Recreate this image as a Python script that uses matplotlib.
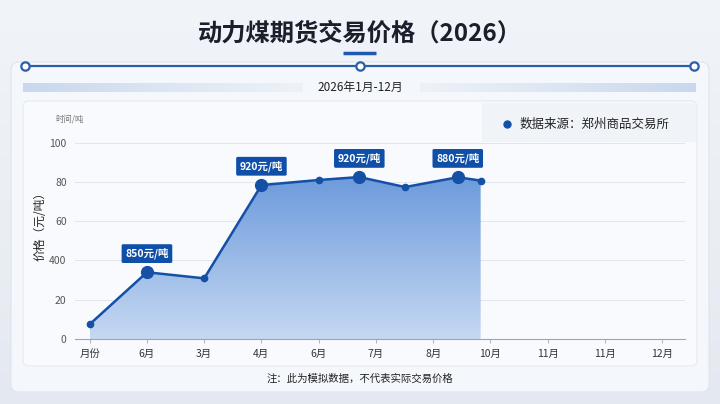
import matplotlib.pyplot as plt
import numpy as np
from matplotlib.patches import FancyBboxPatch, Rectangle, Polygon

plt.rcParams['font.family'] = ['Noto Sans CJK SC', 'DejaVu Sans']

# 数据
x_pos = [0, 1, 2, 3, 4, 4.71, 5.51, 6.43, 6.83]
price = [7.5, 34.0, 30.9, 78.4, 81.0, 82.5, 77.4, 82.4, 80.7]
big_idx = [1, 3, 5, 7]
labels = ['850元/吨', '920元/吨', '920元/吨', '880元/吨']
label_y = [43.5, 88, 92, 92]
label_x = [1, 3, 4.71, 6.43]
x_ticks = list(range(11))
x_ticklabels = ['月份', '6月', '3月', '4月', '6月', '7月', '8月', '10月', '11月', '11月', '12月']
y_ticks = [0, 20, 40, 60, 80, 100]
y_ticklabels = ['0', '20', '400', '60', '80', '100']

W, H = 720, 404
fig = plt.figure(figsize=(7.2, 4.04), dpi=100)
fig.patch.set_facecolor('#e8edf4')

# 背景层（像素坐标）
bg = fig.add_axes([0, 0, 1, 1])
bg.set_xlim(0, W)
bg.set_ylim(H, 0)
bg.axis('off')
bg.imshow(np.linspace(0, 1, 256).reshape(-1, 1), cmap=plt.matplotlib.colors.LinearSegmentedColormap.from_list('b', ['#f1f4f9', '#e4e9f1']),
          extent=[0, W, H, 0], aspect='auto', zorder=0)

bg.add_patch(FancyBboxPatch((11, 62), 698, 330, boxstyle='round,pad=0,rounding_size=8',
                            fc='#f4f7fb', ec='#dfe5ee', lw=0.8, zorder=1))
bg.add_patch(FancyBboxPatch((23, 101), 674, 265, boxstyle='round,pad=0,rounding_size=6',
                            fc='#f8fafd', ec='#e6ebf2', lw=0.8, zorder=2))
bg.add_patch(Rectangle((482, 103), 214, 39, fc='#f0f3f8', ec='none', zorder=2))

bg.text(360, 33, '动力煤期货交易价格（2026）', ha='center', va='center',
        fontsize=17.5, fontweight='bold', color='#1a1f2b', zorder=3)
bg.plot([343, 376], [52.5, 52.5], color='#1f58b0', lw=2.5, solid_capstyle='butt', zorder=3)

bg.plot([25, 694], [66, 66], color='#2a5ea8', lw=1.6, zorder=3)
for cx in [25, 360, 694]:
    bg.plot(cx, 66, 'o', ms=6, mfc='white', mec='#2a5ea8', mew=1.6, zorder=4)

# 副标题条
grad = np.linspace(0, 1, 256).reshape(1, -1)
cm_l = plt.matplotlib.colors.LinearSegmentedColormap.from_list('l', ['#c9d8ed', '#eef2f8'])
bg.imshow(grad, cmap=cm_l, extent=[23, 303, 92, 83], aspect='auto', zorder=3)
bg.imshow(grad[:, ::-1], cmap=cm_l, extent=[420, 696, 92, 83], aspect='auto', zorder=3)
bg.text(360, 87.5, '2026年1月-12月', ha='center', va='center', fontsize=8.5, color='#222', zorder=4)

bg.plot(507, 124, 'o', ms=5, color='#1450a8', zorder=4)
bg.text(520, 124, '数据来源：郑州商品交易所', ha='left', va='center', fontsize=9, color='#222', zorder=4)
bg.text(55, 119, '时间/吨', ha='left', va='center', fontsize=6, color='#777', zorder=4)
bg.text(40, 223, '价格（元/吨）', ha='center', va='center', rotation=90, fontsize=8.5,
        fontweight='medium', color='#222', zorder=4)
bg.text(360, 379, '注：此为模拟数据，不代表实际交易价格', ha='center', va='center', fontsize=7.5, color='#222', zorder=4)

# 主图
ax = fig.add_axes([75 / W, 1 - 339 / H, 610 / W, (339 - 142.7) / H])
ax.set_facecolor('none')
ax.set_xlim(-0.257, 10.4)
ax.set_ylim(0, 100)
for s in ['top', 'right', 'left']:
    ax.spines[s].set_visible(False)
ax.spines['bottom'].set_color('#9aa5b5')
ax.spines['bottom'].set_linewidth(0.8)
ax.set_yticks(y_ticks)
ax.set_yticklabels(y_ticklabels, fontsize=7.5, color='#555')
ax.set_xticks(x_ticks)
ax.set_xticklabels(x_ticklabels, fontsize=7.5, color='#333')
ax.tick_params(axis='y', length=0, pad=6)
ax.tick_params(axis='x', length=3, color='#b0b8c5', pad=4)
ax.grid(axis='y', color='#e1e6ee', lw=0.7)
ax.set_axisbelow(True)

# 渐变填充
cm_f = plt.matplotlib.colors.LinearSegmentedColormap.from_list('f', ['#c6d8f2', '#6d9bdc'])
img = ax.imshow(np.linspace(0, 1, 256).reshape(-1, 1), cmap=cm_f, origin='lower',
                extent=[x_pos[0], x_pos[-1], 0, max(price)], aspect='auto', zorder=2)
poly = Polygon(list(zip(x_pos, price)) + [(x_pos[-1], 0), (x_pos[0], 0)], closed=True,
               fc='none', ec='none', transform=ax.transData)
ax.add_patch(poly)
img.set_clip_path(poly)

ax.plot(x_pos, price, color='#1450a5', lw=1.8, zorder=3)
ax.plot(x_pos, price, 'o', ms=4.5, color='#1450a5', zorder=4)
ax.plot([x_pos[i] for i in big_idx], [price[i] for i in big_idx], 'o', ms=8.5, color='#1450a5', zorder=5)

for lx, ly, t in zip(label_x, label_y, labels):
    ax.text(lx, ly, t, ha='center', va='center', fontsize=7.5, fontweight='bold', color='white', zorder=6,
            bbox=dict(boxstyle='round,pad=0.35,rounding_size=0.15', fc='#0f4fa8', ec='none'), clip_on=False)

fig.savefig('out.png', dpi=100)
